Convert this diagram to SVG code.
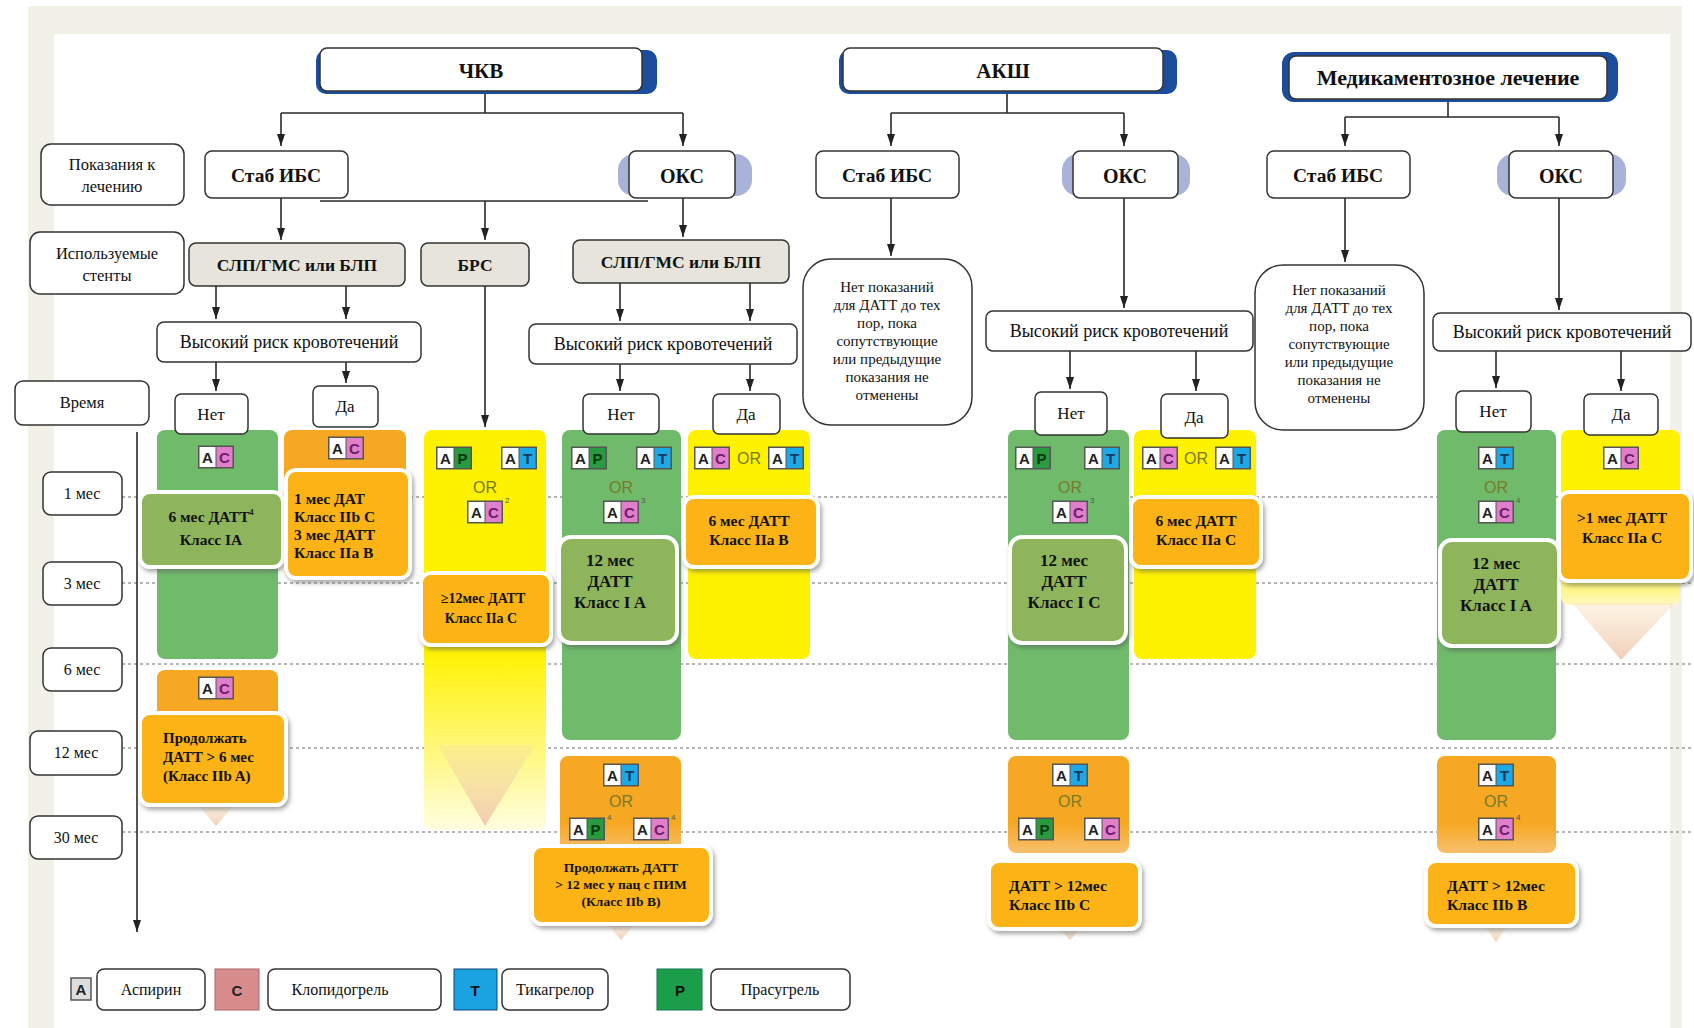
<svg xmlns="http://www.w3.org/2000/svg" width="1694" height="1028" viewBox="0 0 1694 1028">
<style>
.t{font-family:"Liberation Serif","DejaVu Serif",serif;fill:#111;text-anchor:middle}
.b{font-weight:bold}
.box{fill:#fff;stroke:#333;stroke-width:1.5}
.stent{fill:#e7e5db;stroke:#333;stroke-width:1.5}
.con{fill:none;stroke:#2a2a2a;stroke-width:1.6}
.arr{marker-end:url(#ar)}
.grid{stroke:#9c9c9c;stroke-width:1.6;stroke-dasharray:3 3}
.green{fill:#6fbb6b}
.orange{fill:#f7a823}
.yellow{fill:#fff200}
.olive{fill:#8fb55c;stroke:#fff;stroke-width:4;filter:url(#sh)}
.gold{fill:#fbb316;stroke:#fff;stroke-width:4;filter:url(#sh)}
.or{font-family:"Liberation Sans","DejaVu Sans",sans-serif;font-size:16px;fill:#7a7a26;text-anchor:middle}
.bl{font-family:"Liberation Sans","DejaVu Sans",sans-serif;font-weight:bold;font-size:15px;text-anchor:middle}
.sup{font-family:"Liberation Sans",sans-serif;font-size:8px;fill:#555}
.fade{fill:#f0bfa0;opacity:0.75}
</style>
<defs>
<marker id="ar" viewBox="0 0 12 8" refX="12" refY="4" markerWidth="12" markerHeight="8" markerUnits="userSpaceOnUse" orient="auto"><path d="M0,0 L12,4 L0,8 z" fill="#222"/></marker>
<filter id="sh" x="-10%" y="-10%" width="125%" height="135%"><feDropShadow dx="2" dy="3" stdDeviation="2" flood-color="#555" flood-opacity="0.5"/></filter>
<linearGradient id="gY" x1="0" y1="0" x2="0" y2="1"><stop offset="0" stop-color="#fff200"/><stop offset="0.55" stop-color="#fff200"/><stop offset="1" stop-color="#fffde0"/></linearGradient>
<linearGradient id="gY2" x1="0" y1="0" x2="0" y2="1"><stop offset="0" stop-color="#fff200"/><stop offset="0.7" stop-color="#fff200"/><stop offset="1" stop-color="#fff8c0"/></linearGradient>
<linearGradient id="gO" x1="0" y1="0" x2="0" y2="1"><stop offset="0" stop-color="#f7a823"/><stop offset="0.7" stop-color="#f7a823"/><stop offset="1" stop-color="#f9c070"/></linearGradient>
<linearGradient id="gF" x1="0" y1="0" x2="0" y2="1"><stop offset="0" stop-color="#f5d8a8" stop-opacity="0.3"/><stop offset="1" stop-color="#eab89a" stop-opacity="0.7"/></linearGradient>
<g id="AC"><rect x="-18" y="-11.5" width="36" height="23" fill="#555"/><rect x="-16.5" y="-10" width="16" height="20" fill="#fff"/><rect x="0.5" y="-10" width="16" height="20" fill="#e27fcb"/><text x="-8.5" y="6" class="bl" fill="#222">A</text><text x="8.5" y="6" class="bl" fill="#6b1d6b">C</text></g>
<g id="AT"><rect x="-18" y="-11.5" width="36" height="23" fill="#555"/><rect x="-16.5" y="-10" width="16" height="20" fill="#fff"/><rect x="0.5" y="-10" width="16" height="20" fill="#1ea8e6"/><text x="-8.5" y="6" class="bl" fill="#222">A</text><text x="8.5" y="6" class="bl" fill="#123a5a">T</text></g>
<g id="AP"><rect x="-18" y="-11.5" width="36" height="23" fill="#555"/><rect x="-16.5" y="-10" width="16" height="20" fill="#fff"/><rect x="0.5" y="-10" width="16" height="20" fill="#2a9a40"/><text x="-8.5" y="6" class="bl" fill="#222">A</text><text x="8.5" y="6" class="bl" fill="#0a3a10">P</text></g>
</defs>

<rect width="1694" height="1028" fill="#fff"/>
<rect x="28" y="6" width="1654" height="1022" fill="#f1f1e8"/>
<rect x="54" y="34" width="1616" height="994" fill="#fff"/>

<g id="grid">
<line class="grid" x1="122" y1="497" x2="1694" y2="497"/>
<line class="grid" x1="122" y1="583" x2="1694" y2="583"/>
<line class="grid" x1="122" y1="664" x2="1694" y2="664"/>
<line class="grid" x1="122" y1="748" x2="1694" y2="748"/>
<line class="grid" x1="122" y1="832" x2="1694" y2="832"/>
</g>

<g id="connectors">
<path class="con" d="M485,92 V113 M281,113 H683"/>
<path class="con arr" d="M281,113 V146"/>
<path class="con arr" d="M683,113 V146"/>
<path class="con arr" d="M281,198 V240"/>
<path class="con" d="M320,201 H648"/>
<path class="con arr" d="M485,201 V240"/>
<path class="con arr" d="M683,198 V237"/>
<path class="con arr" d="M216,286 V319"/>
<path class="con arr" d="M346,286 V319"/>
<path class="con arr" d="M485,286 V427"/>
<path class="con arr" d="M620,283 V321"/>
<path class="con arr" d="M750,283 V321"/>
<path class="con arr" d="M216,362 V391"/>
<path class="con arr" d="M346,362 V383"/>
<path class="con arr" d="M620,364 V391"/>
<path class="con arr" d="M750,364 V391"/>
<path class="con" d="M1007,92 V113 M891,113 H1124"/>
<path class="con arr" d="M891,113 V146"/>
<path class="con arr" d="M1124,113 V146"/>
<path class="con arr" d="M891,198 V256"/>
<path class="con arr" d="M1124,198 V308"/>
<path class="con arr" d="M1070,351 V389"/>
<path class="con arr" d="M1196,351 V391"/>
<path class="con" d="M1448,100 V117 M1345,117 H1559"/>
<path class="con arr" d="M1345,117 V146"/>
<path class="con arr" d="M1559,117 V146"/>
<path class="con arr" d="M1345,198 V262"/>
<path class="con arr" d="M1559,198 V310"/>
<path class="con arr" d="M1496,351 V388"/>
<path class="con arr" d="M1621,351 V391"/>
<path class="con arr" d="M137,432 V932"/>
</g>

<g id="hdr-pci"><rect x="316" y="50" width="341" height="44" rx="10" fill="#1c4d9c"/><rect class="box" x="320" y="48" width="322" height="43" rx="7"/><text class="t b" x="481" y="78" font-size="21">ЧКВ</text></g>
<g id="hdr-cabg"><rect x="839" y="50" width="338" height="44" rx="10" fill="#1c4d9c"/><rect class="box" x="843" y="48" width="320" height="43" rx="7"/><text class="t b" x="1003" y="78" font-size="21">АКШ</text></g>
<g id="hdr-med"><rect x="1282" y="52" width="336" height="50" rx="12" fill="#1c4d9c"/><rect class="box" x="1289" y="56" width="318" height="43" rx="7"/><text class="t b" x="1448" y="85" font-size="22">Медикаментозное лечение</text></g>

<g id="lbl-ind"><rect class="box" x="41" y="144" width="143" height="61" rx="10"/><text class="t" x="112" y="170" font-size="16.5">Показания к</text><text class="t" x="112" y="192" font-size="16.5">лечению</text></g>
<g id="lbl-stent"><rect class="box" x="30" y="232" width="154" height="62" rx="10"/><text class="t" x="107" y="259" font-size="16.5">Используемые</text><text class="t" x="107" y="281" font-size="16.5">стенты</text></g>
<g id="lbl-time"><rect class="box" x="15" y="381" width="134" height="44" rx="8"/><text class="t" x="82" y="408" font-size="16.5">Время</text></g>
<g id="t1"><rect class="box" x="43" y="472" width="79" height="43" rx="8"/><text class="t" x="82" y="499" font-size="16">1 мес</text></g>
<g id="t3"><rect class="box" x="43" y="562" width="79" height="43" rx="8"/><text class="t" x="82" y="589" font-size="16">3 мес</text></g>
<g id="t6"><rect class="box" x="43" y="648" width="79" height="43" rx="8"/><text class="t" x="82" y="675" font-size="16">6 мес</text></g>
<g id="t12"><rect class="box" x="30" y="731" width="92" height="44" rx="8"/><text class="t" x="76" y="758" font-size="16">12 мес</text></g>
<g id="t30"><rect class="box" x="30" y="816" width="92" height="43" rx="8"/><text class="t" x="76" y="843" font-size="16">30 мес</text></g>

<g id="pci-stab"><rect class="box" x="205" y="151" width="143" height="47" rx="7"/><text class="t b" x="276" y="182" font-size="19.5">Стаб ИБС</text></g>
<g id="pci-acs"><rect x="618" y="154" width="134" height="42" rx="16" fill="#a9b2d9"/><rect class="box" x="629" y="151" width="106" height="47" rx="7"/><text class="t b" x="682" y="183" font-size="20">ОКС</text></g>
<g id="cabg-stab"><rect class="box" x="816" y="151" width="143" height="47" rx="7"/><text class="t b" x="887" y="182" font-size="19.5">Стаб ИБС</text></g>
<g id="cabg-acs"><rect x="1062" y="154" width="128" height="42" rx="16" fill="#a9b2d9"/><rect class="box" x="1073" y="151" width="105" height="47" rx="7"/><text class="t b" x="1125" y="183" font-size="20">ОКС</text></g>
<g id="med-stab"><rect class="box" x="1267" y="151" width="143" height="47" rx="7"/><text class="t b" x="1338" y="182" font-size="19.5">Стаб ИБС</text></g>
<g id="med-acs"><rect x="1497" y="154" width="129" height="42" rx="16" fill="#a9b2d9"/><rect class="box" x="1509" y="151" width="104" height="47" rx="7"/><text class="t b" x="1561" y="183" font-size="20">ОКС</text></g>

<g id="stent-l"><rect class="stent" x="189" y="243" width="216" height="43" rx="7"/><text class="t b" x="297" y="271" font-size="17.5">СЛП/ГМС или БЛП</text></g>
<g id="stent-brs"><rect class="stent" x="421" y="243" width="108" height="43" rx="7"/><text class="t b" x="475" y="271" font-size="17.5">БРС</text></g>
<g id="stent-r"><rect class="stent" x="573" y="240" width="216" height="43" rx="7"/><text class="t b" x="681" y="268" font-size="17.5">СЛП/ГМС или БЛП</text></g>

<g id="risk-pci-l"><rect class="box" x="157" y="322" width="264" height="40" rx="7"/><text class="t" x="289" y="348" font-size="18">Высокий риск кровотечений</text></g>
<g id="risk-pci-r"><rect class="box" x="529" y="324" width="268" height="40" rx="7"/><text class="t" x="663" y="350" font-size="18">Высокий риск кровотечений</text></g>
<g id="risk-cabg"><rect class="box" x="986" y="311" width="267" height="40" rx="7"/><text class="t" x="1119" y="337" font-size="18">Высокий риск кровотечений</text></g>
<g id="risk-med"><rect class="box" x="1433" y="313" width="258" height="38" rx="7"/><text class="t" x="1562" y="338" font-size="18">Высокий риск кровотечений</text></g>

<g id="noind-cabg"><rect class="box" x="803" y="259" width="169" height="166" rx="28"/>
<text class="t" font-size="15"><tspan x="887" y="292">Нет показаний</tspan><tspan x="887" y="310">для ДАТТ до тех</tspan><tspan x="887" y="328">пор, пока</tspan><tspan x="887" y="346">сопутствующие</tspan><tspan x="887" y="364">или предыдущие</tspan><tspan x="887" y="382">показания не</tspan><tspan x="887" y="400">отменены</tspan></text></g>
<g id="noind-med"><rect class="box" x="1255" y="265" width="169" height="165" rx="28"/>
<text class="t" font-size="15"><tspan x="1339" y="295">Нет показаний</tspan><tspan x="1339" y="313">для ДАТТ до тех</tspan><tspan x="1339" y="331">пор, пока</tspan><tspan x="1339" y="349">сопутствующие</tspan><tspan x="1339" y="367">или предыдущие</tspan><tspan x="1339" y="385">показания не</tspan><tspan x="1339" y="403">отменены</tspan></text></g>

<!-- columns -->
<g id="col-pci-stab-no"><rect class="green" x="157" y="430" width="121" height="229" rx="8"/><use href="#AC" x="216" y="457"/>
<rect class="olive" x="140" y="492" width="143" height="75" rx="10"/><text class="t b" x="211" y="522" font-size="15.5">6 мес ДАТТ<tspan font-size="8" dy="-7">4</tspan></text><text class="t b" x="211" y="545" font-size="15.5">Класс IA</text></g>
<g id="col-pci-stab-yes"><rect class="orange" x="284" y="430" width="122" height="148" rx="8"/><use href="#AC" x="346" y="448"/>
<rect class="gold" x="286" y="470" width="124" height="108" rx="10"/>
<text class="t b" font-size="15.5" style="text-anchor:start"><tspan x="294" y="504">1 мес  ДАТ</tspan><tspan x="294" y="522">Класс IIb C</tspan><tspan x="294" y="540">3 мес ДАТТ</tspan><tspan x="294" y="558">Класс IIa B</tspan></text></g>
<g id="col-pci-stab-no-late"><rect class="orange" x="157" y="670" width="121" height="50" rx="8"/><use href="#AC" x="216" y="688"/>
<polygon points="198,805 234,805 216,826" fill="url(#gF)"/>
<rect class="gold" x="140" y="713" width="146" height="92" rx="10"/>
<text class="t b" font-size="15" style="text-anchor:start"><tspan x="163" y="743">Продолжать</tspan><tspan x="163" y="762">ДАТТ &gt;  6 мес</tspan><tspan x="163" y="781">(Класс IIb A)</tspan></text></g>

<g id="col-brs"><rect x="424" y="430" width="122" height="400" rx="8" fill="url(#gY)"/>
<polygon points="438,745 535,745 485,826" fill="url(#gF)"/>
<use href="#AP" x="454" y="458"/><use href="#AT" x="519" y="458"/><text class="or" x="485" y="493">OR</text><use href="#AC" x="485" y="512"/><text class="sup" x="505" y="503">2</text>
<rect class="gold" x="421" y="573" width="130" height="72" rx="10"/>
<text class="t b" x="483" y="603" font-size="14">≥12мес ДАТТ</text><text class="t b" x="481" y="623" font-size="14">Класс IIa C</text></g>

<g id="col-pci-acs-no"><rect class="green" x="562" y="430" width="119" height="310" rx="8"/>
<use href="#AP" x="589" y="458"/><use href="#AT" x="654" y="458"/><text class="or" x="621" y="493">OR</text><use href="#AC" x="621" y="512"/><text class="sup" x="641" y="503">3</text>
<rect class="olive" x="559" y="537" width="118" height="106" rx="12"/>
<text class="t b" font-size="17"><tspan x="610" y="566">12  мес</tspan><tspan x="610" y="587">ДАТТ</tspan><tspan x="610" y="608">Класс I A</tspan></text></g>
<g id="col-pci-acs-no-late"><rect x="560" y="756" width="121" height="97" rx="8" fill="url(#gO)"/>
<use href="#AT" x="621" y="775"/><text class="or" x="621" y="807">OR</text><use href="#AP" x="587" y="829"/><text class="sup" x="607" y="820">4</text><use href="#AC" x="651" y="829"/><text class="sup" x="671" y="820">4</text>
<polygon points="609,926 633,926 621,940" fill="url(#gF)"/>
<rect class="gold" x="532" y="846" width="179" height="78" rx="10"/>
<text class="t b" font-size="13.5"><tspan x="621" y="872">Продолжать  ДАТТ</tspan><tspan x="621" y="889">&gt; 12 мес у пац  с ПИМ</tspan><tspan x="621" y="906">(Класс IIb B)</tspan></text></g>

<g id="col-pci-acs-yes"><rect class="yellow" x="688" y="430" width="122" height="229" rx="8"/>
<use href="#AC" x="712" y="458"/><text class="or" x="749" y="464">OR</text><use href="#AT" x="786" y="458"/>
<rect class="gold" x="684" y="497" width="134" height="70" rx="10"/>
<text class="t b" x="749" y="526" font-size="15.5">6 мес ДАТТ</text><text class="t b" x="749" y="545" font-size="15.5">Класс IIa B</text></g>

<g id="col-cabg-acs-no"><rect class="green" x="1008" y="430" width="121" height="310" rx="8"/>
<use href="#AP" x="1033" y="458"/><use href="#AT" x="1102" y="458"/><text class="or" x="1070" y="493">OR</text><use href="#AC" x="1070" y="512"/><text class="sup" x="1090" y="503">3</text>
<rect class="olive" x="1010" y="537" width="116" height="106" rx="12"/>
<text class="t b" font-size="17"><tspan x="1064" y="566">12  мес</tspan><tspan x="1064" y="587">ДАТТ</tspan><tspan x="1064" y="608">Класс I C</tspan></text></g>
<g id="col-cabg-acs-no-late"><rect x="1008" y="756" width="121" height="97" rx="8" fill="url(#gO)"/>
<use href="#AT" x="1070" y="775"/><text class="or" x="1070" y="807">OR</text><use href="#AP" x="1036" y="829"/><use href="#AC" x="1102" y="829"/>
<polygon points="1060,929 1080,929 1070,940" fill="url(#gF)"/>
<rect class="gold" x="989" y="861" width="151" height="68" rx="10"/>
<text class="t b" font-size="15.5" style="text-anchor:start"><tspan x="1009" y="891">ДАТТ &gt; 12мес</tspan><tspan x="1009" y="910">Класс IIb C</tspan></text></g>

<g id="col-cabg-acs-yes"><rect class="yellow" x="1134" y="430" width="122" height="229" rx="8"/>
<use href="#AC" x="1160" y="458"/><text class="or" x="1196" y="464">OR</text><use href="#AT" x="1233" y="458"/>
<rect class="gold" x="1131" y="497" width="130" height="70" rx="10"/>
<text class="t b" x="1196" y="526" font-size="15.5">6 мес ДАТТ</text><text class="t b" x="1196" y="545" font-size="15.5">Класс IIa C</text></g>

<g id="col-med-acs-no"><rect class="green" x="1437" y="430" width="119" height="310" rx="8"/>
<use href="#AT" x="1496" y="458"/><text class="or" x="1496" y="493">OR</text><use href="#AC" x="1496" y="512"/><text class="sup" x="1516" y="503">4</text>
<rect class="olive" x="1440" y="540" width="119" height="106" rx="12"/>
<text class="t b" font-size="17"><tspan x="1496" y="569">12  мес</tspan><tspan x="1496" y="590">ДАТТ</tspan><tspan x="1496" y="611">Класс I A</tspan></text></g>
<g id="col-med-acs-no-late"><rect x="1437" y="756" width="119" height="97" rx="8" fill="url(#gO)"/>
<use href="#AT" x="1496" y="775"/><text class="or" x="1496" y="807">OR</text><use href="#AC" x="1496" y="829"/><text class="sup" x="1516" y="820">4</text>
<polygon points="1486,928 1506,928 1496,942" fill="url(#gF)"/>
<rect class="gold" x="1426" y="861" width="151" height="65" rx="10"/>
<text class="t b" font-size="15.5" style="text-anchor:start"><tspan x="1447" y="891">ДАТТ &gt; 12мес</tspan><tspan x="1447" y="910">Класс IIb B</tspan></text></g>

<g id="col-med-acs-yes"><rect x="1561" y="430" width="119" height="175" rx="8" fill="url(#gY2)"/>
<polygon points="1572,603 1675,603 1621,660" fill="url(#gF)"/>
<use href="#AC" x="1621" y="458"/>
<rect class="gold" x="1559" y="492" width="132" height="89" rx="10"/>
<text class="t b" x="1622" y="523" font-size="15.5">&gt;1 мес ДАТТ</text><text class="t b" x="1622" y="543" font-size="15.5">Класс IIa C</text></g>

<!-- Yes/No boxes -->
<g id="pci-stab-no"><rect class="box" x="175" y="394" width="73" height="40" rx="6"/><text class="t" x="211" y="420" font-size="17">Нет</text></g>
<g id="pci-stab-yes"><rect class="box" x="313" y="386" width="65" height="41" rx="6"/><text class="t" x="345" y="412" font-size="17">Да</text></g>
<g id="pci-acs-no"><rect class="box" x="583" y="394" width="76" height="40" rx="6"/><text class="t" x="621" y="420" font-size="17">Нет</text></g>
<g id="pci-acs-yes"><rect class="box" x="713" y="394" width="67" height="40" rx="6"/><text class="t" x="746" y="420" font-size="17">Да</text></g>
<g id="cabg-acs-no"><rect class="box" x="1035" y="392" width="72" height="43" rx="6"/><text class="t" x="1071" y="419" font-size="17">Нет</text></g>
<g id="cabg-acs-yes"><rect class="box" x="1161" y="394" width="67" height="44" rx="6"/><text class="t" x="1194" y="423" font-size="17">Да</text></g>
<g id="med-acs-no"><rect class="box" x="1456" y="391" width="75" height="41" rx="6"/><text class="t" x="1493" y="417" font-size="17">Нет</text></g>
<g id="med-acs-yes"><rect class="box" x="1584" y="394" width="74" height="41" rx="6"/><text class="t" x="1621" y="420" font-size="17">Да</text></g>

<!-- legend -->
<g id="legend">
<rect x="71" y="978" width="20" height="22" fill="#ddd" stroke="#555" stroke-width="1.5"/><text class="bl" x="81" y="995" fill="#222">A</text>
<rect class="box" x="97" y="969" width="108" height="41" rx="7"/><text class="t" x="151" y="995" font-size="16">Аспирин</text>
<rect x="215" y="969" width="44" height="41" fill="#d98c8c" stroke="#a66" stroke-width="1"/><text class="bl" x="237" y="996" fill="#222">C</text>
<rect class="box" x="268" y="969" width="173" height="41" rx="7"/><text class="t" x="340" y="995" font-size="16">Клопидогрель</text>
<rect x="454" y="969" width="43" height="41" fill="#1aa3e0" stroke="#147" stroke-width="1"/><text class="bl" x="475" y="996" fill="#111">T</text>
<rect class="box" x="502" y="969" width="106" height="41" rx="7"/><text class="t" x="555" y="995" font-size="16">Тикагрелор</text>
<rect x="657" y="969" width="45" height="41" fill="#1a9e4a" stroke="#175" stroke-width="1"/><text class="bl" x="680" y="996" fill="#111">P</text>
<rect class="box" x="711" y="969" width="139" height="41" rx="7"/><text class="t" x="780" y="995" font-size="16">Прасугрель</text>
</g>
</svg>
